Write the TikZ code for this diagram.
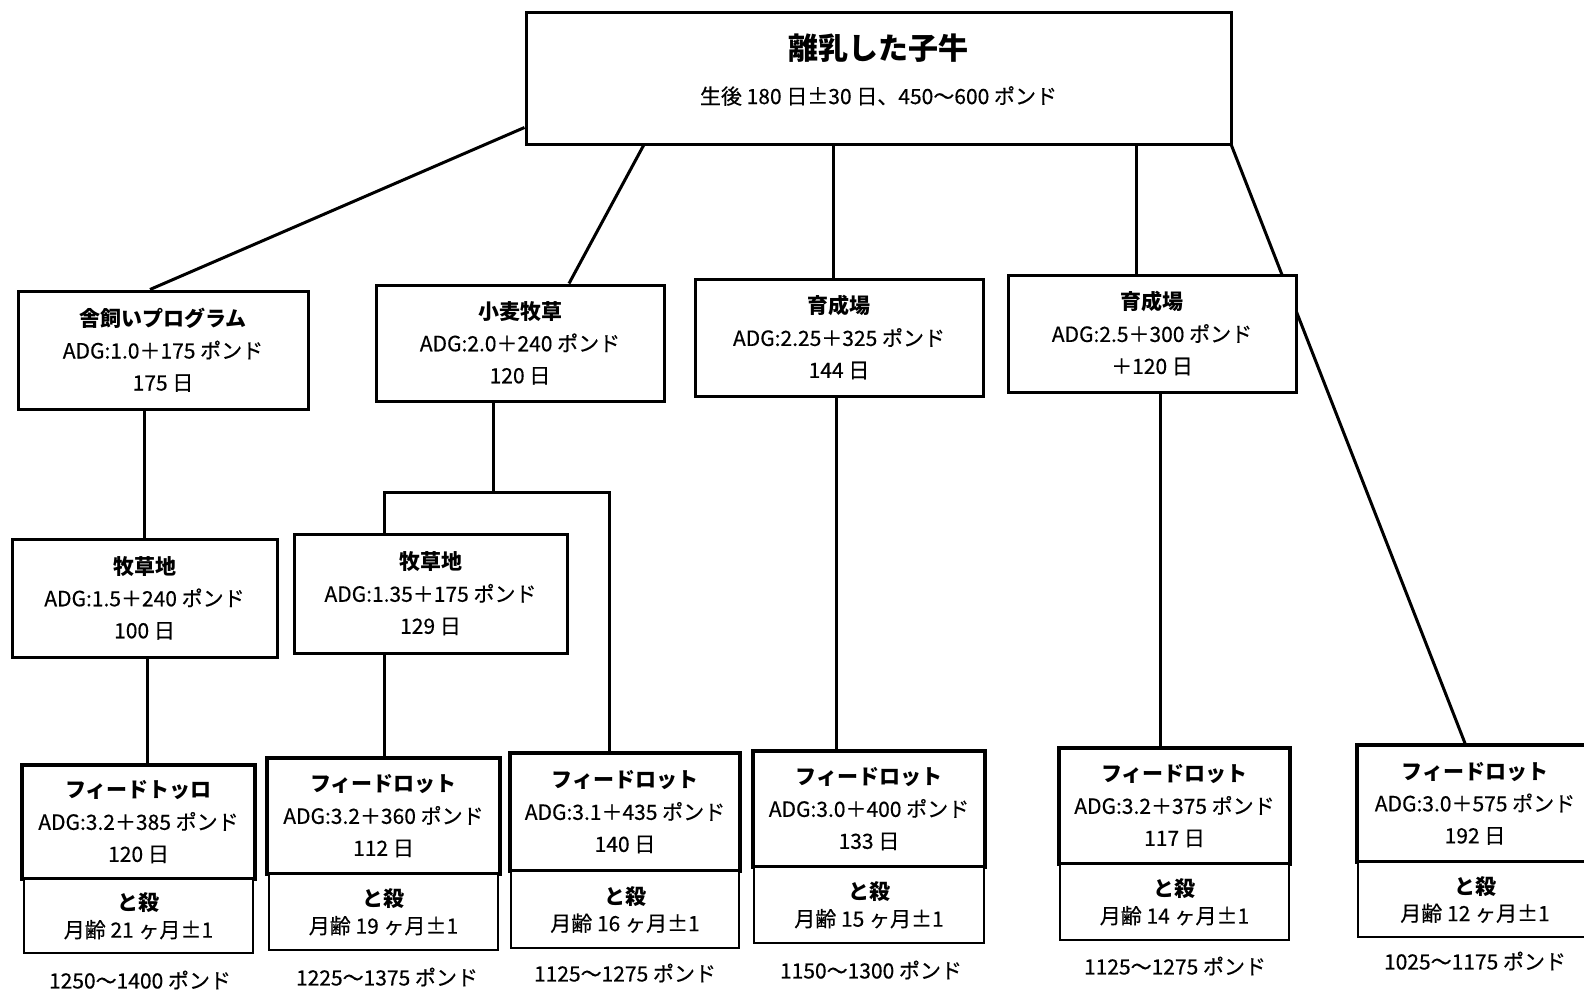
\documentclass[tikz,border=0pt]{standalone}
\usepackage{fontspec}
\setmainfont{Noto Sans CJK JP}[UprightFeatures={FakeBold=0.4}]
\usetikzlibrary{calc}
\pgfdeclarelayer{background}
\pgfsetlayers{background,main}
\begin{document}
\begin{tikzpicture}[x=1pt,y=-1pt,
  conn/.style={line width=3pt},
  box/.style={draw, line width=3pt, fill=white, inner sep=0pt, align=center,
    font=\fontsize{21}{32}\selectfont},
  fdbox/.style={draw, line width=3.4pt, fill=white, inner sep=0pt, align=center,
    font=\fontsize{21}{32}\selectfont},
  slbox/.style={draw, line width=2pt, fill=white, inner sep=0pt, align=center,
    font=\fontsize{21}{27}\selectfont},
  wt/.style={inner sep=0pt, font=\fontsize{21}{25}\selectfont}
]
\useasboundingbox (0,0) rectangle (1584,993);

% top box
\node[box, minimum width=705pt, minimum height=132pt] (top) at (878.5,78) {};
\node[inner sep=0pt, font=\fontsize{30}{34}\selectfont\bfseries] (topt) at (878.5,48) {離乳した子牛};
\node[inner sep=0pt, font=\fontsize{21}{25}\selectfont] (tops) at (878.5,96) {生後 180 日±30 日、450～600 ポンド};

% level 2
\node[box, minimum width=290pt, minimum height=118pt] (shagai) at (163,350)
  {\textbf{舎飼いプログラム}\\ADG:1.0＋175 ポンド\\175 日};
\node[box, minimum width=288pt, minimum height=116pt] (komugi) at (520,343)
  {\textbf{小麦牧草}\\ADG:2.0＋240 ポンド\\120 日};
\node[box, minimum width=288pt, minimum height=117pt] (ikusei1) at (839,337.5)
  {\textbf{育成場}\\ADG:2.25＋325 ポンド\\144 日};
\node[box, minimum width=288pt, minimum height=117pt] (ikusei2) at (1152,333.5)
  {\textbf{育成場}\\ADG:2.5＋300 ポンド\\＋120 日};

% level 3
\node[box, minimum width=265pt, minimum height=118pt] (bokuso1) at (144.5,598)
  {\textbf{牧草地}\\ADG:1.5＋240 ポンド\\100 日};
\node[box, minimum width=273pt, minimum height=119pt] (bokuso2) at (430.5,593.5)
  {\textbf{牧草地}\\ADG:1.35＋175 ポンド\\129 日};

% feedlots
\node[fdbox, minimum width=233pt, minimum height=114pt] (fl1) at (138.5,822)
  {\textbf{フィードトッロ}\\ADG:3.2＋385 ポンド\\120 日};
\node[slbox, minimum width=229pt, minimum height=74pt] (sl1) at (138.5,916)
  {\textbf{と殺}\\月齢 21 ヶ月±1};
\node[wt] (w1) at (140,980) {1250～1400 ポンド};

\node[fdbox, minimum width=233pt, minimum height=116pt] (fl2) at (383.5,816)
  {\textbf{フィードロット}\\ADG:3.2＋360 ポンド\\112 日};
\node[slbox, minimum width=229pt, minimum height=76pt] (sl2) at (383.5,912)
  {\textbf{と殺}\\月齢 19 ヶ月±1};
\node[wt] (w2) at (387,977) {1225～1375 ポンド};

\node[fdbox, minimum width=230pt, minimum height=118pt] (fl3) at (625,812)
  {\textbf{フィードロット}\\ADG:3.1＋435 ポンド\\140 日};
\node[slbox, minimum width=228pt, minimum height=77pt] (sl3) at (625,909.5)
  {\textbf{と殺}\\月齢 16 ヶ月±1};
\node[wt] (w3) at (625,973) {1125～1275 ポンド};

\node[fdbox, minimum width=232pt, minimum height=116pt] (fl4) at (869,809)
  {\textbf{フィードロット}\\ADG:3.0＋400 ポンド\\133 日};
\node[slbox, minimum width=230pt, minimum height=76pt] (sl4) at (869,905)
  {\textbf{と殺}\\月齢 15 ヶ月±1};
\node[wt] (w4) at (871,970) {1150～1300 ポンド};

\node[fdbox, minimum width=231pt, minimum height=116pt] (fl5) at (1174.5,806)
  {\textbf{フィードロット}\\ADG:3.2＋375 ポンド\\117 日};
\node[slbox, minimum width=229pt, minimum height=76pt] (sl5) at (1174.5,902)
  {\textbf{と殺}\\月齢 14 ヶ月±1};
\node[wt] (w5) at (1175,966) {1125～1275 ポンド};

\node[fdbox, minimum width=236pt, minimum height=117pt] (fl6) at (1475,803.5)
  {\textbf{フィードロット}\\ADG:3.0＋575 ポンド\\192 日};
\node[slbox, minimum width=234pt, minimum height=75pt] (sl6) at (1475,899.5)
  {\textbf{と殺}\\月齢 12 ヶ月±1};
\node[wt] (w6) at (1475,961) {1025～1175 ポンド};

% connectors
\coordinate (elbowL) at (384,492);
\coordinate (elbowR) at (609,492);
\begin{pgfonlayer}{background}
\draw[conn] ($(top.south west)+(0,-18)$) -- ($(shagai.north)+(-13,0)$);
\draw[conn] ($(top.south west)+(119,0)$) -- ($(komugi.north)+(49,0)$);
\coordinate (c1) at ($(ikusei1.north)+(-6,0)$);
\draw[conn] (c1 |- top.south) -- (c1);
\coordinate (c2) at ($(ikusei2.north)+(-16,0)$);
\draw[conn] (c2 |- top.south) -- (c2);
\draw[conn] ($(top.south east)+(-1,0)$) -- ($(fl6.north)+(-10,0)$);
\draw[conn] (bokuso1.north |- shagai.south) -- (bokuso1.north);
\coordinate (c3) at ($(bokuso1.south)+(3,0)$);
\draw[conn] (c3) -- (c3 |- fl1.north);
\coordinate (k1) at ($(komugi.south)+(-27,0)$);
\draw[conn] (k1) -- (k1 |- elbowL);
\draw[conn] (bokuso2.north -| elbowL) -- (elbowL) -- (elbowR) -- (elbowR |- fl3.north);
\draw[conn] (bokuso2.south -| elbowL) -- (fl2.north -| elbowL);
\coordinate (c4) at ($(ikusei1.south)+(-3,0)$);
\draw[conn] (c4) -- (c4 |- fl4.north);
\coordinate (c5) at ($(ikusei2.south)+(8,0)$);
\draw[conn] (c5) -- (c5 |- fl5.north);
\end{pgfonlayer}
\end{tikzpicture}
\end{document}
